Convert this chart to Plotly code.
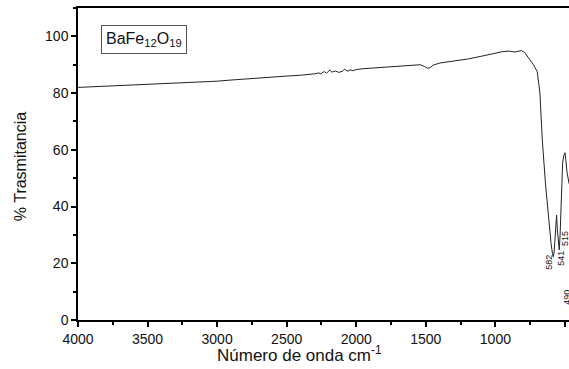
import plotly.graph_objects as go

wavenumber = [4000, 3900, 3800, 3700, 3600, 3500, 3400, 3300, 3200, 3100, 3000, 2900, 2800, 2700,
              2600, 2500, 2400, 2350, 2300, 2270, 2255, 2230, 2215, 2190, 2175, 2150, 2125, 2100,
              2085, 2060, 2045, 2020, 2000, 1950, 1900, 1800, 1700, 1600, 1540, 1510, 1490, 1470,
              1450, 1400, 1300, 1200, 1100, 1000, 950, 900, 864, 840, 813, 790, 760, 735, 715, 699,
              680, 663, 640, 620, 600, 590, 584, 578, 570, 565, 560, 555, 548, 541, 535, 527, 517,
              508, 500, 495, 485, 470]
transmittance = [82.0, 82.2, 82.5, 82.8, 82.9, 83.0, 83.3, 83.6, 83.8, 84.0, 84.2, 84.6, 85.0, 85.4,
                 85.8, 86.0, 86.3, 86.5, 86.8, 87.1, 86.8, 87.6, 87.0, 88.1, 87.4, 87.8, 87.3, 87.7,
                 88.4, 87.7, 88.2, 87.9, 88.3, 88.6, 88.8, 89.2, 89.5, 89.9, 90.0, 89.4, 88.8, 88.9,
                 89.8, 90.6, 91.3, 92.0, 93.0, 94.0, 94.6, 94.8, 94.5, 94.7, 95.0, 94.3, 92.5, 90.6,
                 89.0, 87.5, 80.0, 63.5, 48.0, 36.0, 27.0, 23.5, 22.3, 24.0, 30.0, 35.0, 37.0, 32.0,
                 27.0, 24.7, 30.0, 42.0, 55.4, 58.0, 59.0, 57.0, 52.0, 48.0]

peak_labels = ["582", "541", "515", "490"]
peak_x = [615, 530, 499, 482]
peak_y = [20.5, 21.9, 28.6, 8]

x_ticks = [4000, 3500, 3000, 2500, 2000, 1500, 1000, 500]
y_ticks = [0, 20, 40, 60, 80, 100]

font_family = "Liberation Sans, Arial, sans-serif"

fig = go.Figure()
fig.add_trace(go.Scatter(x=wavenumber, y=transmittance, mode="lines",
                         line=dict(color="#222222", width=1), showlegend=False))

for lab, px, py in zip(peak_labels, peak_x, peak_y):
    fig.add_annotation(x=px, y=py, text=lab, showarrow=False, textangle=-90,
                       font=dict(size=9, color="#111111", family=font_family))

fig.add_annotation(xref="paper", yref="paper", x=0.047, y=0.946, xanchor="left", yanchor="top",
                   text="BaFe<sub>12</sub>O<sub>19</sub>", showarrow=False,
                   bordercolor="#555555", borderwidth=1, borderpad=4,
                   font=dict(size=16, color="#111111", family=font_family))

fig.add_annotation(xref="paper", yref="paper", x=0.452, y=-0.108, xanchor="center", yanchor="middle",
                   text="Número de onda cm<sup>-1</sup>", showarrow=False,
                   font=dict(size=17, color="#111111", family=font_family))

fig.add_annotation(xref="paper", yref="paper", x=-0.118, y=0.49, xanchor="center", yanchor="middle",
                   text="% Trasmitancia", showarrow=False, textangle=-90,
                   font=dict(size=16, color="#111111", family=font_family))

fig.update_layout(
    width=569, height=369,
    margin=dict(l=78, r=0, t=8, b=49, autoexpand=False),
    paper_bgcolor="white", plot_bgcolor="white",
    font=dict(family=font_family, color="#111111"),
    xaxis=dict(range=[4000, 471], tickvals=x_ticks, ticks="outside", ticklen=5, tickwidth=1.5,
               tickcolor="black", showline=True, linecolor="black", linewidth=1.5, mirror=True,
               showgrid=False, zeroline=False, tickfont=dict(size=14), automargin=False,
               minor=dict(dtick=250, ticks="outside", ticklen=3, tickcolor="black", tickwidth=1.5, showgrid=False)),
    yaxis=dict(range=[0, 110], tickvals=y_ticks, ticks="outside", ticklen=5, tickwidth=1.5,
               tickcolor="black", showline=True, linecolor="black", linewidth=1.5, mirror=False,
               showgrid=False, zeroline=False, tickfont=dict(size=14), automargin=False,
               minor=dict(dtick=10, ticks="outside", ticklen=3, tickcolor="black", tickwidth=1.5, showgrid=False)),
)

fig.write_html("out.html", config={"displayModeBar": False},
               post_script="document.body.style.margin='0';document.body.style.overflow='hidden';")
